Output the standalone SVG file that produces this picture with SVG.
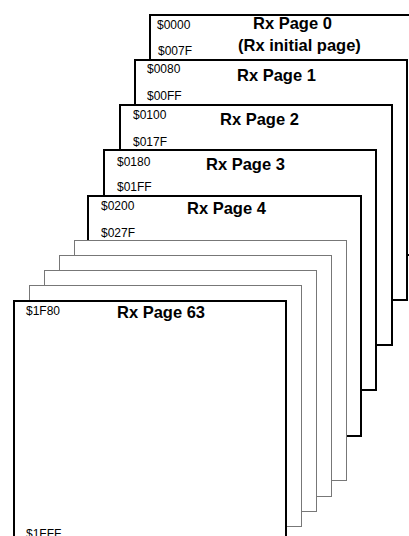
<svg xmlns="http://www.w3.org/2000/svg" width="409" height="536" viewBox="0 0 409 536">
<style>
.pg{fill:#fff;stroke:#000;stroke-width:2}
.th{fill:#fff;stroke:#777;stroke-width:1}
.ad{font-family:"Liberation Sans",Arial,sans-serif;font-size:12px;fill:#000}
.tt{font-family:"Liberation Sans",Arial,sans-serif;font-size:16.5px;font-weight:bold;fill:#000}
</style>
<rect width="409" height="536" fill="#fff"/>
<g id="page0">
<rect class="pg" x="150" y="15" width="272" height="240"/>
<text class="ad" x="157" y="29">$0000</text>
<text class="ad" x="158" y="55">$007F</text>
<text class="tt" x="253" y="29">Rx Page 0</text>
<text class="tt" x="238" y="51">(Rx initial page)</text>
</g>
<g id="page1">
<rect class="pg" x="135" y="60" width="272" height="240"/>
<text class="ad" x="147" y="73">$0080</text>
<text class="ad" x="147" y="100">$00FF</text>
<text class="tt" x="237" y="81">Rx Page 1</text>
</g>
<g id="page2">
<rect class="pg" x="120" y="105" width="272" height="240"/>
<text class="ad" x="133" y="119">$0100</text>
<text class="ad" x="133" y="146">$017F</text>
<text class="tt" x="220" y="125">Rx Page 2</text>
</g>
<g id="page3">
<rect class="pg" x="104" y="150" width="272" height="240"/>
<text class="ad" x="117" y="166">$0180</text>
<text class="ad" x="117" y="191">$01FF</text>
<text class="tt" x="206" y="170">Rx Page 3</text>
</g>
<g id="page4">
<rect class="pg" x="88" y="196" width="273" height="240"/>
<text class="ad" x="101" y="210">$0200</text>
<text class="ad" x="101" y="237">$027F</text>
<text class="tt" x="187" y="214">Rx Page 4</text>
</g>
<g id="pageA"><rect class="th" x="74.5" y="240.5" width="272" height="240"/></g>
<g id="pageB"><rect class="th" x="59.5" y="255.5" width="272" height="241"/></g>
<g id="pageC"><rect class="th" x="44.5" y="270.5" width="272" height="241"/></g>
<g id="pageD"><rect class="th" x="29.5" y="285.5" width="272" height="241"/></g>
<g id="page63">
<rect class="pg" x="14" y="301" width="272" height="240"/>
<text class="ad" x="26" y="315">$1F80</text>
<text class="tt" x="117" y="318">Rx Page 63</text>
<text class="ad" x="26" y="537.5">$1FFF</text>
</g>
<g id="connectors"></g>
</svg>
